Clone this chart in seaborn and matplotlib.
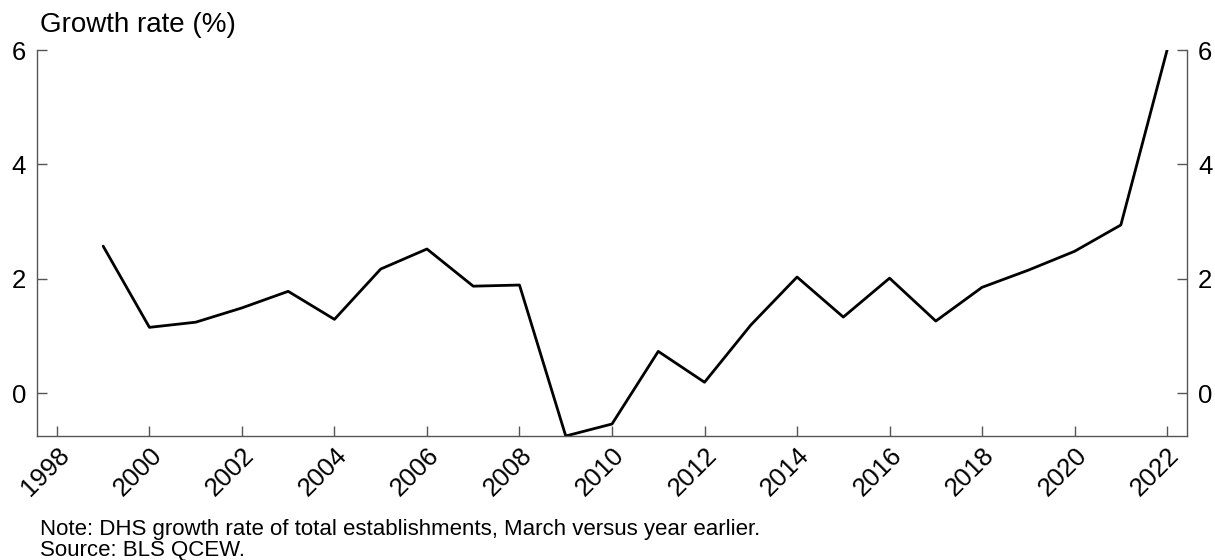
import matplotlib
matplotlib.use("Agg")
import matplotlib.pyplot as plt
import seaborn as sns
import pandas as pd

years = list(range(1999, 2023))
growth = [2.57, 1.15, 1.24, 1.49, 1.78, 1.29, 2.17, 2.52, 1.87, 1.89, -0.75, -0.54,
          0.73, 0.19, 1.19, 2.03, 1.33, 2.01, 1.26, 1.85, 2.15, 2.48, 2.94, 6.0]
xticks = list(range(1998, 2023, 2))
yticks = [0, 2, 4, 6]

df = pd.DataFrame({"year": years, "growth": growth})

sns.set_theme(style="white")
plt.rcParams['font.family'] = ['Liberation Sans', 'DejaVu Sans']
plt.rcParams['text.color'] = 'black'

fig = plt.figure(figsize=(12.15, 5.6), dpi=100)
ax = fig.add_axes([37/1215, 1-436/560, (1187-37)/1215, (436-50)/560])
sns.lineplot(data=df, x="year", y="growth", ax=ax, color="black", linewidth=2)

ax.set_xlim(1997.57, 2022.43)
ax.set_ylim(min(growth), 6)
ax.set_xticks(xticks)
ax.set_xticklabels([str(t) for t in xticks], rotation=45, ha="right", rotation_mode="anchor")
ax.set_yticks(yticks)
ax.set_xlabel("")
ax.set_ylabel("")

spine_color = "#555555"
for s in ["left", "right", "bottom"]:
    ax.spines[s].set_visible(True)
    ax.spines[s].set_color(spine_color)
    ax.spines[s].set_linewidth(1.0)
ax.spines["top"].set_visible(False)

ax.tick_params(axis="both", direction="in", length=7, width=1, color=spine_color,
               labelsize=18.5, labelcolor="black")
ax.tick_params(axis="y", left=True, right=True, labelleft=True, labelright=True, pad=8)
ax.tick_params(axis="x", bottom=True, pad=5)

fig.text(40/1215, 1-32/560, "Growth rate (%)", fontsize=20, ha="left", va="baseline", color="black")
fig.text(40/1215, 1-535/560, "Note: DHS growth rate of total establishments, March versus year earlier.",
         fontsize=16, ha="left", va="baseline", color="black")
fig.text(40/1215, 1-556/560, "Source: BLS QCEW.", fontsize=16, ha="left", va="baseline", color="black")

fig.savefig("out.png", dpi=100)
